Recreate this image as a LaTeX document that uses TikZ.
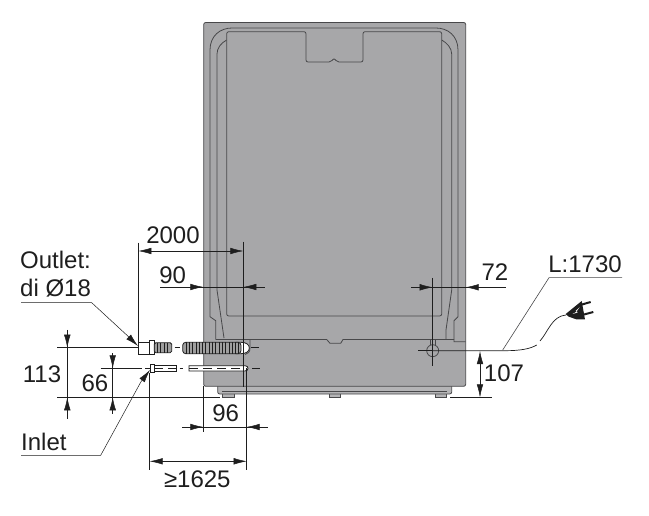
\documentclass[tikz,border=0pt]{standalone}
\usepackage{fontspec}
\setmainfont{Liberation Sans}
\usetikzlibrary{arrows.meta}
\definecolor{bodygray}{HTML}{A7A7A9}
\definecolor{edgegray}{HTML}{48484A}
\definecolor{inkgray}{HTML}{1E1E1E}
\tikzset{
  label/.style={inner sep=0pt,text=inkgray,font=\fontsize{24}{28}\selectfont},
  thin line/.style={draw=inkgray,line width=.5pt},
  dim arrow/.style={thin line,-{Latex[length=13pt,width=6.5pt]}},
  body line/.style={draw=edgegray,line width=.8pt},
  hose/.style={draw=inkgray,line width=.8pt,fill=gray!75},
  tube/.style={draw=inkgray,line width=.8pt,fill=white}
}
\begin{document}
\begin{tikzpicture}[x=1pt,y=-1pt]
    \useasboundingbox (0,0) rectangle (649,516);
    % cabinet
    \draw[body line,fill=bodygray!85!white] (222.5,394) -- (222.5,397.5) -- (234.5,397.5) -- (234.5,394);
    \draw[body line,fill=bodygray!85!white] (329,394) -- (329,397.5) -- (340,397.5) -- (340,394);
    \draw[body line,fill=bodygray!85!white] (435,394) -- (435,397.5) -- (446,397.5) -- (446,394);
    \draw[body line,fill=bodygray!85!white,rounded corners=2pt] (217.7,386) -- (217.7,394) -- (451.7,394) -- (451.7,386);
    \draw[body line] (222,391.5) -- (447,391.5);
    \draw[body line,fill=bodygray,rounded corners=2pt] (203.7,22.5) rectangle (465.7,386.3);
    \draw[body line] (215.7,339.5) -- (215.7,320.7) -- (210,316.7) -- (210,50) .. controls (210,36) and (220,28) .. (232,28) -- (436,28)
        .. controls (448,28) and (458,36) .. (458,50) -- (458,316.7) -- (454,320.7) -- (454,341.7) -- (465.7,341.7);
    \draw[body line] (224,338) -- (217,290) -- (217,54) .. controls (217,48) and (221,43) .. (226.7,40);
    \draw[body line] (441.7,40) .. controls (447,43) and (451.7,48) .. (451.7,54) -- (451.7,290) -- (446,330) -- (446,339.5);
    \draw[body line,fill=bodygray,rounded corners=2pt] (226.7,316) -- (226.7,31.7) -- (306,31.7) -- (306,62)
        -- (331,62) -- (334,58) -- (337,62) -- (363,62) -- (363,31.7) -- (441.7,31.7) -- (441.7,316) -- cycle;
    \draw[body line] (215.7,339.5) -- (326.7,339.5) -- (330,343.3) -- (340.7,343.3) -- (343,339.5) -- (454,339.5);
    \draw[body line] (250,339.5) -- (250,348) .. controls (250,352) and (248,354) .. (245,354.5);
    % hole of the cord
    \draw[body line] (432.7,350.7) circle (6);
    \draw[body line] (430,339.5) -- (430,345.2) (435.4,339.5) -- (435.4,345.2);
    % outlet hose
    \draw[tube] (138.3,342) rectangle (149.3,354);
    \draw[tube] (149.3,340.7) rectangle (154.3,354.7);
    \draw[hose,rounded corners=1.5pt] (154.3,342.7) rectangle (171.7,352.7);
    \foreach \x in {157.3,160.6,...,170} \draw[draw=inkgray,line width=.7pt] (\x,342.7) -- (\x,352.7);
    \draw[tube] (236,342.3) -- (241,342.3) .. controls (246,342.3) and (249.3,344.5) .. (249.3,348)
        .. controls (249.3,351.5) and (246,353.7) .. (241,353.7) -- (236,353.7) -- cycle;
    \draw[hose,rounded corners=3pt] (182.7,342.3) rectangle (241,353.7);
    \foreach \x in {186,189.3,...,240} \draw[draw=inkgray,line width=.7pt] (\x,342.3) -- (\x,353.7);
    % inlet hose
    \draw[tube] (154.3,365.7) rectangle (176.7,371);
    \draw[tube] (189,365.7) -- (245,365.7) .. controls (249,365.7) and (249,371) .. (245,371) -- (189,371) -- cycle;
    \draw[tube,fill=white] (150,364.3) rectangle (154.3,372.7);
    \draw[thin line,dash pattern=on 9pt off 5pt] (154.3,368.3) -- (176.7,368.3);
    \draw[thin line,dash pattern=on 9pt off 5pt] (189,368.3) -- (244,368.3);
    \draw[thin line] (100.7,368.3) -- (141.7,368.3) (145,368.3) -- (150,368.3) (179.5,368.3) -- (183,368.3) (252,368.3) -- (260,368.3);
    \draw[thin line] (57,347.7) -- (138.3,347.7) (174.5,347.7) -- (180,347.7) (251,347.7) -- (259,347.7);
    \draw[thin line] (57,397.3) -- (220,397.3);
    \draw[thin line] (450,397.3) -- (491.7,397.3);
    % extension lines
    \draw[thin line] (138.3,242.7) -- (138.3,342);
    \draw[thin line] (243.3,241.7) -- (243.3,386.7);
    \draw[thin line] (246.7,368.3) -- (246.7,470);
    \draw[thin line] (203.3,386.3) -- (203.3,432);
    \draw[thin line] (149.7,372.7) -- (149.7,470);
    \draw[thin line] (432.7,278) -- (432.7,366);
    \draw[thin line] (418,350.7) -- (432.7,350.7);
    % dimension 2000
    \node(dtwok)[label] at (173,235) {2000};
    \draw[thin line] (152,251) -- (230,251);
    \draw[dim arrow] (152,251) -- (138.3,251);
    \draw[dim arrow] (230,251) -- (243.3,251);
    % dimension 90
    \node(dninety)[label] at (172.7,275) {90};
    \draw[thin line] (160,287) -- (265,287);
    \draw[dim arrow] (190.7,287) -- (203.3,287);
    \draw[dim arrow] (256.7,287) -- (243.3,287);
    % dimension 72
    \node(dseventy)[label] at (495,272) {72};
    \draw[thin line] (411,287.3) -- (506,287.3);
    \draw[dim arrow] (420,287.3) -- (432.7,287.3);
    \draw[dim arrow] (478.5,287.3) -- (465.7,287.3);
    % dimension 113
    \node(dhigh)[label] at (42,374) {113};
    \draw[thin line] (67.3,330) -- (67.3,419);
    \draw[dim arrow] (67.3,335) -- (67.3,347.7);
    \draw[dim arrow] (67.3,410.7) -- (67.3,397.3);
    % dimension 66
    \node(dlow)[label] at (95,383) {66};
    \draw[thin line] (112.7,353) -- (112.7,414);
    \draw[dim arrow] (112.7,355.3) -- (112.7,368.3);
    \draw[dim arrow] (112.7,410.3) -- (112.7,397.3);
    % dimension 96
    \node(dnine)[label] at (225.7,413) {96};
    \draw[thin line] (182,427) -- (267.7,427);
    \draw[dim arrow] (190.7,427) -- (203.3,427);
    \draw[dim arrow] (259.3,427) -- (246.7,427);
    % dimension 1625
    \node(dmin)[label] at (197.3,479) {≥1625};
    \draw[thin line] (163,461.3) -- (233,461.3);
    \draw[dim arrow] (163,461.3) -- (149.7,461.3);
    \draw[dim arrow] (233,461.3) -- (246.7,461.3);
    % dimension 107
    \node(dcord)[label] at (504,373) {107};
    \draw[thin line] (480,364) -- (480,384);
    \draw[dim arrow] (480,364) -- (480,351);
    \draw[dim arrow] (480,384) -- (480,397.3);
    % labels with leaders
    \node(outlet)[label,anchor=west,align=left] at (20,274) {Outlet:\\di Ø18};
    \coordinate (outcorner) at (91.7,302.7);
    \coordinate (outtip) at (138,346);
    \draw[thin line] (21,302.7) -- (outcorner) -- (126.7,335);
    \draw[dim arrow] (126.7,335) -- (outtip);
    \node(inlet)[label,anchor=west] at (21,442) {Inlet};
    \coordinate (incorner) at (100.7,455.3);
    \coordinate (intip) at (150,370);
    \draw[thin line] (21,455.3) -- (incorner) -- (141,381.7);
    \draw[dim arrow] (141,381.7) -- (intip);
    \node(cordlen)[label] at (585,264) {L:1730};
    \draw[draw=edgegray,line width=.6pt] (622,277.7) -- (549,277.7) -- (502.7,350);
    % cord and plug
    \draw[draw=inkgray,line width=.7pt] (432.7,350.7) -- (505,350.7) .. controls (520,350.7) and (530,349) .. (536.7,345);
    \draw[draw=inkgray,line width=.7pt] (540,341) .. controls (548,332) and (552,316) .. (566,315);
    \fill[inkgray] (565.7,314) -- (578,304) -- (581.7,301) -- (585,319.5) -- (576.7,319.5) -- (568.3,316.5) -- cycle;
    \draw[draw=inkgray,line width=2pt] (582,304.5) -- (590.7,302) (584,314.5) -- (593.3,312);
    \fill[white] (579.5,307.5) -- (575.5,311) -- (577,311.5) -- (572.5,314) -- (577.5,312.5) -- (576.5,311.5) -- cycle;
\end{tikzpicture}
\end{document}
